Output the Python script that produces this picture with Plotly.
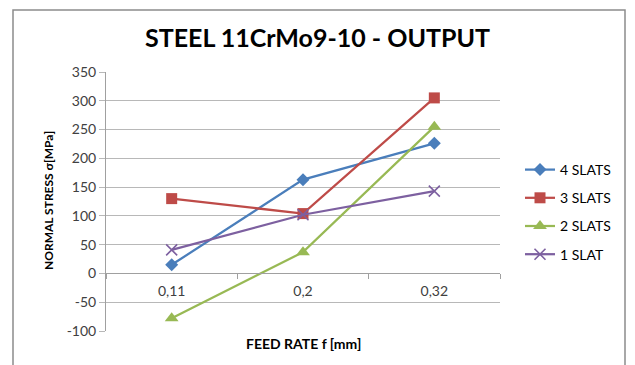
import plotly.graph_objects as go

# Feed rates (category axis) and normal stress per slat count
feed_rates = ["0,11", "0,2", "0,32"]
stress_4_slats = [15, 163, 226]
stress_3_slats = [130, 104, 305]
stress_2_slats = [-78, 37, 255]
stress_1_slat = [41, 102, 143]

y_ticks = [-100, -50, 0, 50, 100, 150, 200, 250, 300, 350]
y_tick_text = [str(v) for v in y_ticks]

W, H = 635, 365
ML, MR, MT, MB = 106, 135, 72, 34
Y_MIN, Y_MAX = -100, 350
FONT = "Lato"
GRID = "#b8b8b8"
TEXT = "#404040"

series = [
    ("4 SLATS", stress_4_slats, "#4a7ebb", dict(symbol="diamond", size=10)),
    ("3 SLATS", stress_3_slats, "#be4b48", dict(symbol="square", size=11)),
    ("2 SLATS", stress_2_slats, "#98b954", dict(symbol="triangle-up", size=12)),
    ("1 SLAT", stress_1_slat, "#7d60a0", dict(symbol="x-thin-open", size=11)),
]

fig = go.Figure()
for name, vals, color, marker in series:
    m = dict(color=color, **marker)
    if marker["symbol"] == "x-thin-open":
        m["line"] = dict(color=color, width=1.6)
    fig.add_trace(go.Scatter(
        x=feed_rates, y=vals, name=name, mode="lines+markers",
        legendgroup=name,
        line=dict(color=color, width=2.25), marker=m,
    ))

# paper-fraction helpers for positioning in pixels
pw, ph = W - ML - MR, H - MT - MB
def px_x(p):
    return (p - ML) / pw
def px_y(p):
    return (H - MB - p) / ph

# outer chart frame
fig.add_shape(type="rect", xref="paper", yref="paper",
              x0=px_x(13), x1=px_x(625), y0=px_y(372), y1=px_y(10),
              line=dict(color="#8c8c8c", width=1.5), layer="below")

zero_pos = (0 - Y_MIN) / (Y_MAX - Y_MIN)

fig.update_layout(
    width=W, height=H,
    margin=dict(l=ML, r=MR, t=MT, b=MB),
    paper_bgcolor="white", plot_bgcolor="white",
    font=dict(family=FONT, color=TEXT, size=12),
    title=dict(text="<b>STEEL 11CrMo9-10 - OUTPUT</b>", x=0.5, xanchor="center",
               xref="container", y=1 - 38 / H, yanchor="middle",
               font=dict(family=FONT, size=25, color="#000000")),
    showlegend=True,
    legend=dict(x=px_x(520), xanchor="left", y=px_y(212), yanchor="middle",
                font=dict(family=FONT, size=14, color="#000000"),
                itemwidth=30, tracegroupgap=7, bgcolor="rgba(0,0,0,0)"),
    xaxis=dict(type="category", range=[-0.5, 2.5], anchor="free", position=zero_pos,
               showgrid=False, showline=True, linecolor="#a0a0a0", linewidth=1,
               ticks="outside", tickson="boundaries", ticklen=5, tickcolor="#a0a0a0",
               tickfont=dict(family=FONT, size=14, color=TEXT),
               ticklabelstandoff=5, zeroline=False),
    yaxis=dict(range=[Y_MIN, Y_MAX], tickvals=y_ticks, ticktext=y_tick_text,
               showgrid=True, gridcolor=GRID, gridwidth=1,
               showline=True, linecolor="#a0a0a0", linewidth=1,
               ticks="outside", ticklen=6, tickcolor=GRID,
               tickfont=dict(family=FONT, size=14, color=TEXT),
               zeroline=False),
)

# axis titles
fig.add_annotation(text="<b>NORMAL STRESS σ[MPa]</b>", xref="paper", yref="paper",
                   x=px_x(48), y=px_y(201), xanchor="center", yanchor="middle",
                   textangle=-90, showarrow=False,
                   font=dict(family=FONT, size=12, color="#000000"))
fig.add_annotation(text="<b>FEED RATE f [mm]</b>", xref="paper", yref="paper",
                   x=px_x(303), y=px_y(343), xanchor="center", yanchor="middle",
                   showarrow=False,
                   font=dict(family=FONT, size=14, color="#000000"))

fig.write_html("out.html")
